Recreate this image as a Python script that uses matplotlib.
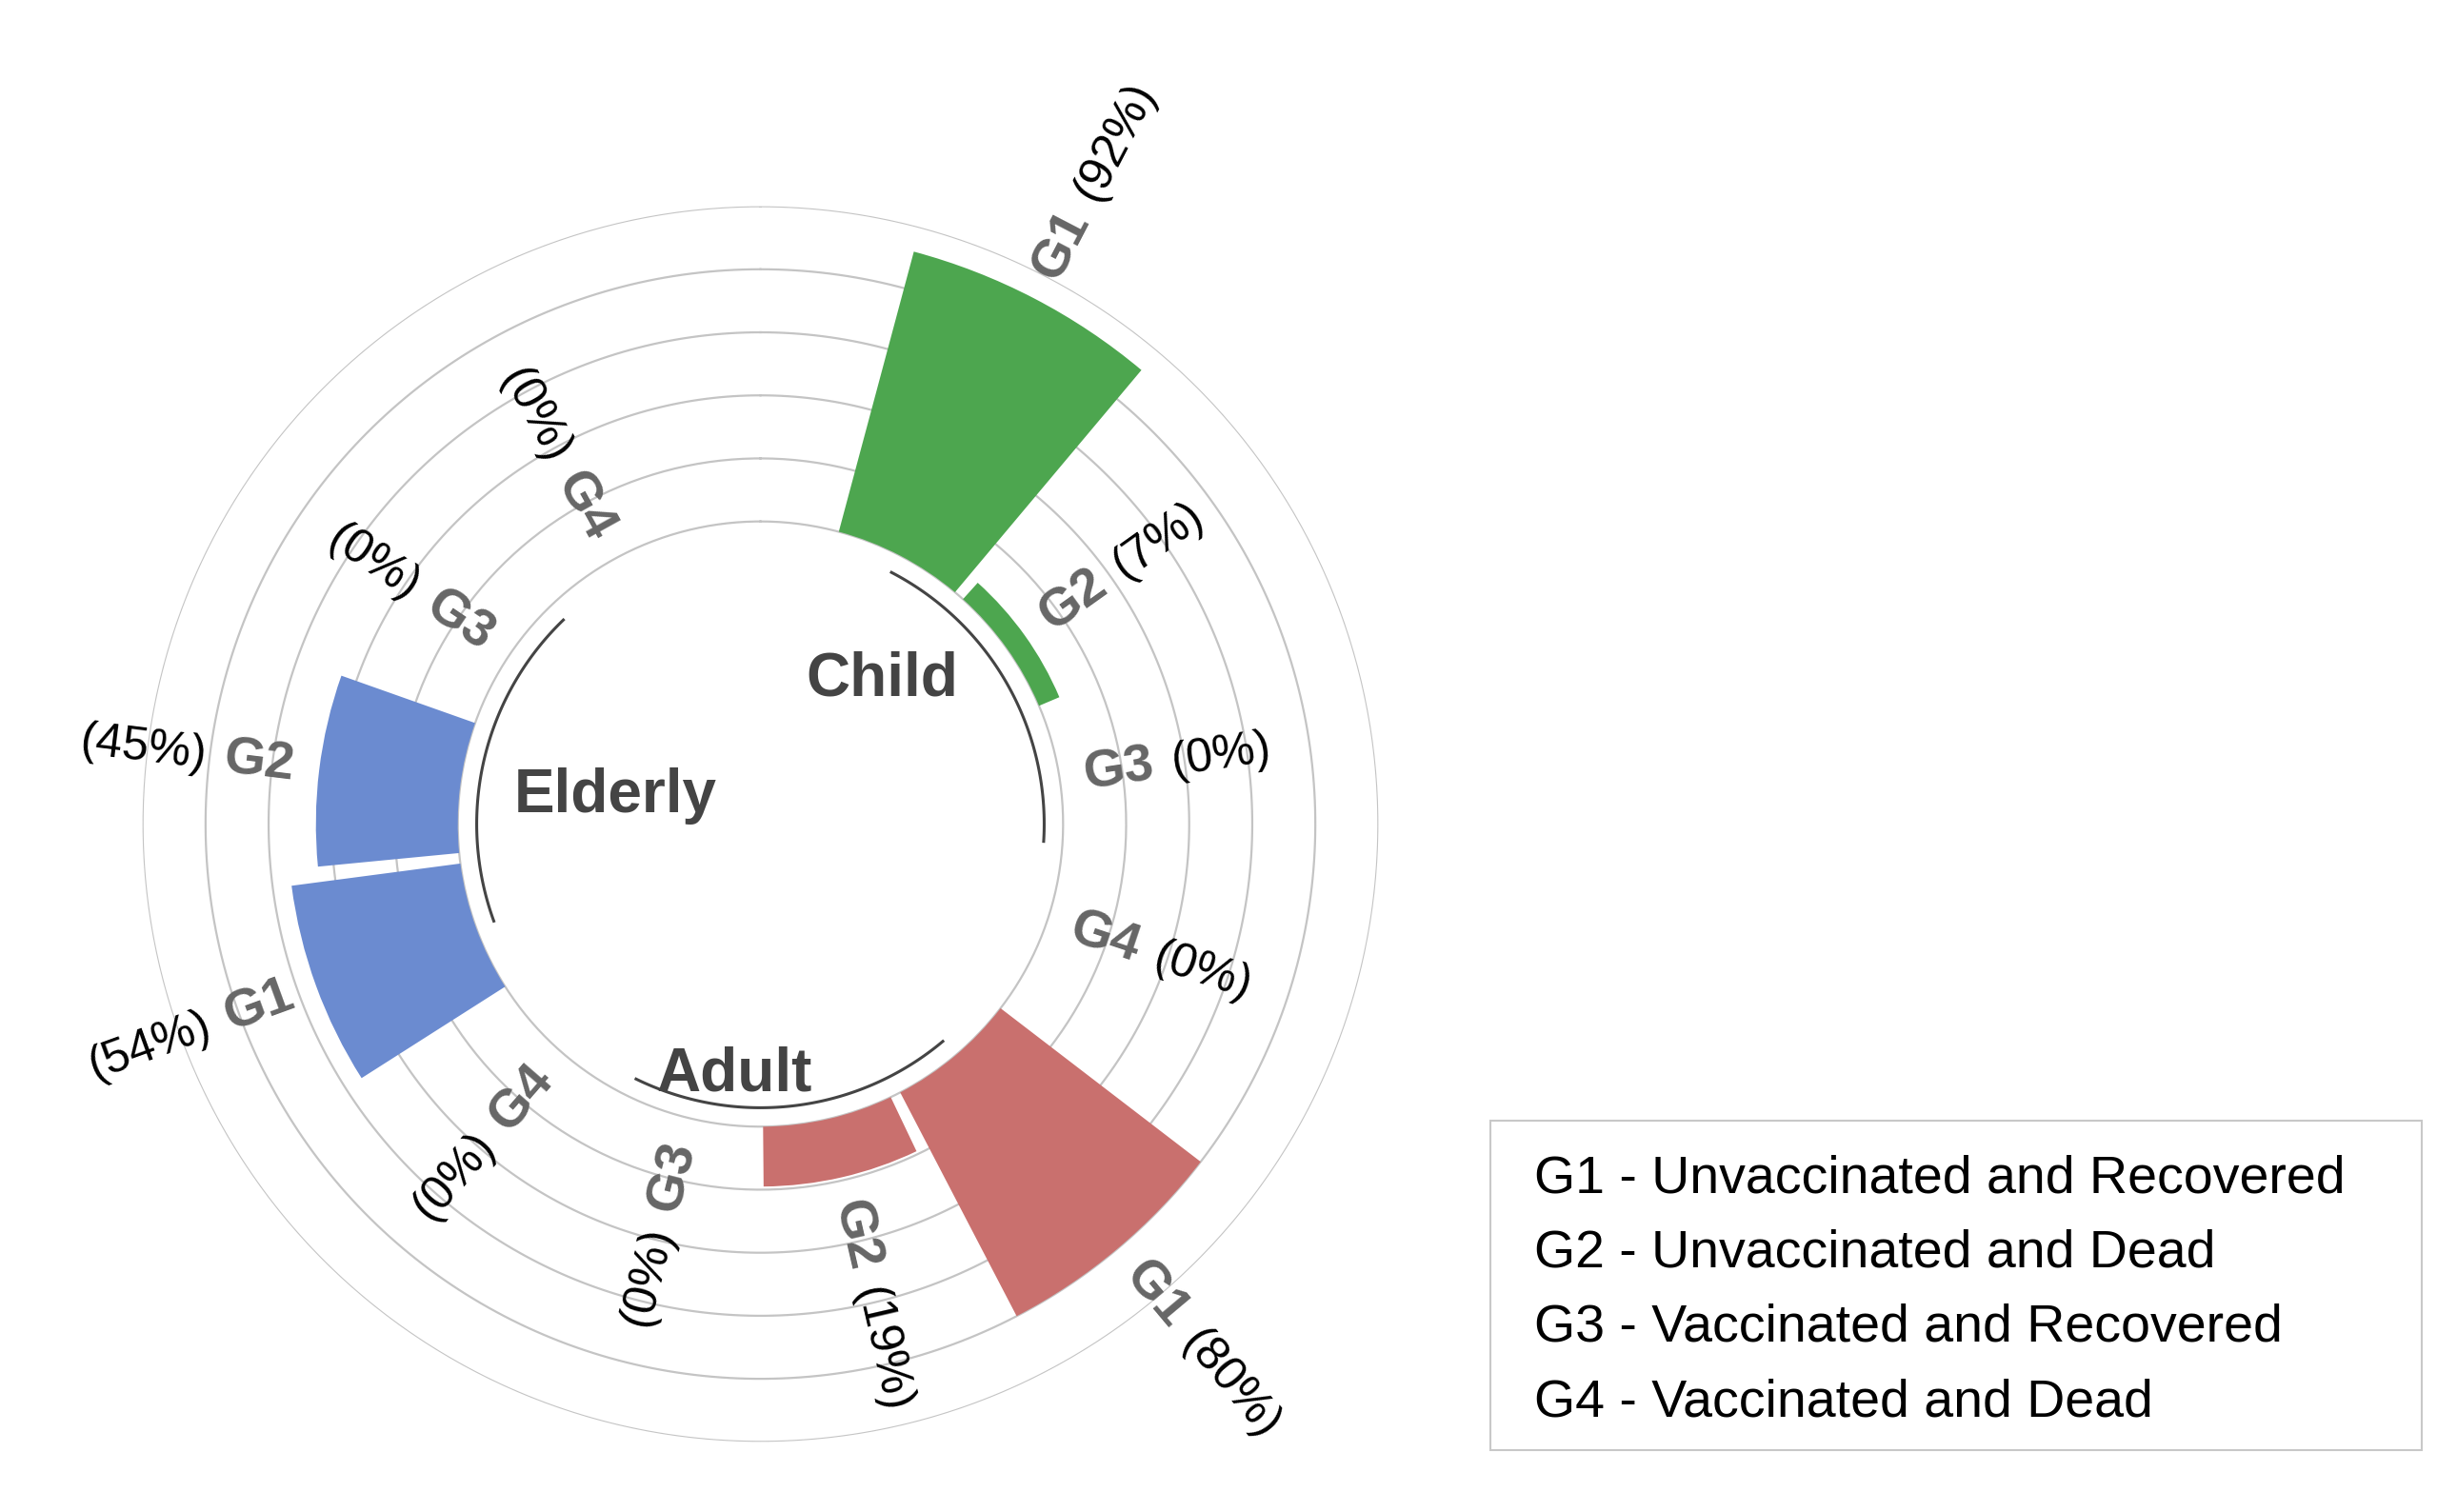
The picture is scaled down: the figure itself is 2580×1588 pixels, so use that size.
import numpy as np
import matplotlib
matplotlib.use("Agg")
import matplotlib.pyplot as plt
from matplotlib.patches import Rectangle

plt.rcParams['font.family'] = ['Liberation Sans', 'DejaVu Sans']

groups = ["Child", "Adult", "Elderly"]
subgroups = ["G1", "G2", "G3", "G4"]
values = {"Child": [92, 7, 0, 0], "Adult": [80, 19, 0, 0], "Elderly": [54, 45, 0, 0]}
colors = {"Child": "#4da64f", "Adult": "#c9706e", "Elderly": "#6b8bd0"}
legend_lines = ["G1 - Unvaccinated and Recovered", "G2 - Unvaccinated and Dead",
                "G3 - Vaccinated and Recovered", "G4 - Vaccinated and Dead"]

fig = plt.figure(figsize=(25.8, 15.88), dpi=100)
ax = fig.add_axes([0.058, 0.046, 0.503, 0.818], projection='polar')
ax.set_theta_zero_location('N')
ax.set_theta_direction(-1)
ax.set_ylim(-96, 100)
ax.grid(False)
ax.set_xticks([]); ax.set_yticks([])
ax.spines['polar'].set_visible(False)

th = np.linspace(0, 2*np.pi, 400)
for r in range(0, 101, 20):
    ax.plot(th, np.full_like(th, r), color='#c4c4c4', lw=1.6, zorder=1)

pitch, width = 27, 25
group_start = {"Child": 27.5, "Adult": 140, "Elderly": 250}
group_label_pos = {"Child": (40, -36), "Adult": (186, -16), "Elderly": (281, -49)}
for g in groups:
    c0 = group_start[g]
    centers = [c0 + k*pitch for k in range(4)]
    for k, (cdeg, v) in enumerate(zip(centers, values[g])):
        t = np.deg2rad(cdeg)
        ax.bar(t, v, width=np.deg2rad(width), bottom=0, color=colors[g], zorder=2, lw=0)
        rl = v + 8
        if cdeg % 360 < 180:
            rot, ha = 90 - cdeg, 'left'
        else:
            rot, ha = 270 - cdeg, 'right'
        ax.text(t, rl, subgroups[k], rotation=rot, rotation_mode='anchor',
                ha=ha, va='center', fontsize=40, color='#666666', fontweight='bold')
        ax.text(t, rl + 28, f"({v}%)", rotation=rot, rotation_mode='anchor',
                ha=ha, va='center', fontsize=36, color='black')
    a = np.deg2rad(np.linspace(centers[0], centers[-1] - 15, 100))
    ax.plot(a, np.full_like(a, -6), color='#444444', lw=2.2, zorder=3)
    ang, rr = group_label_pos[g]
    ax.text(np.deg2rad(ang), rr, g, ha='center', va='center', fontsize=46,
            fontweight='bold', color='#444444')

lx0, ly0, lw_, lh_ = 940/1550, 1 - 915/954, (1528-940)/1550, (915-707)/954
fig.patches.append(Rectangle((lx0, ly0), lw_, lh_, transform=fig.transFigure,
                             fill=False, edgecolor='#c8c8c8', lw=1.5))
for i, s in enumerate(legend_lines):
    fig.text(968/1550, 1 - (744 + i*47)/954, s, fontsize=40, va='center', ha='left', color='black')

fig.savefig("out.png", dpi=100)
